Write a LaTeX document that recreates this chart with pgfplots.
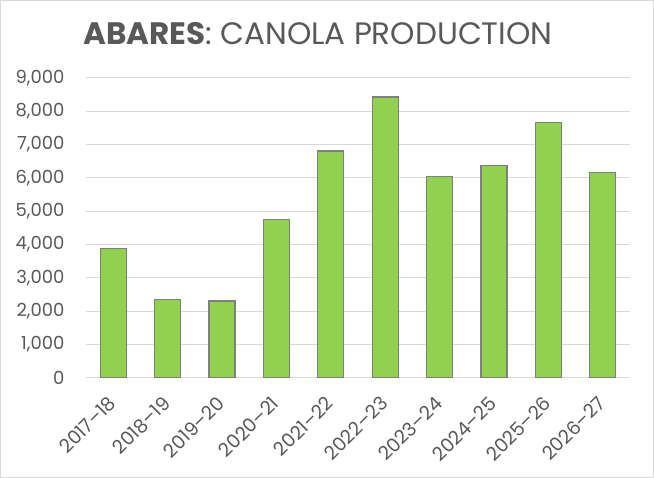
\documentclass[border=0pt]{standalone}
\usepackage{fontspec}
\setmainfont{Poppins}
\usepackage{pgfplots}
\pgfplotsset{compat=1.18}
\usetikzlibrary{calc}

\definecolor{barfill}{RGB}{146,208,80}
\definecolor{baredge}{RGB}{127,127,127}
\definecolor{gridgray}{RGB}{217,217,217}
\definecolor{txt}{RGB}{89,89,89}

\begin{document}
\begin{tikzpicture}
\begin{axis}[
    scale only axis,
    width=544pt, height=300pt,
    ybar, bar width=26pt,
    xmin=-0.5, xmax=9.5,
    ymin=0, ymax=9000,
    xtick={0,...,9},
    xticklabels={2017–18,2018–19,2019–20,2020–21,2021–22,2022–23,2023–24,2024–25,2025–26,2026–27},
    ytick={0,1000,...,9000},
    axis line style={draw=none},
    major tick length=0pt,
    ymajorgrids,
    grid style={gridgray, line width=1pt},
    /pgf/number format/assume math mode=true,
    /pgf/number format/1000 sep={,},
    yticklabel style={font=\fontsize{18}{21}\selectfont, text=txt, xshift=-18pt},
    xticklabel style={font=\fontsize{19}{22}\selectfont, text=txt, xshift=-6pt, yshift=-12pt, rotate=45, anchor=north east},
]
\addplot[fill=barfill, draw=baredge, line width=1.3pt] coordinates {
    (0,3890) (1,2360) (2,2310) (3,4760) (4,6810)
    (5,8430) (6,6050) (7,6380) (8,7670) (9,6170)
};
\end{axis}
\coordinate (sw) at ($(current axis.south west)+(-86pt,-100pt)$);
\draw[gridgray, line width=1pt] ($(sw)+(0.5pt,0.5pt)$) rectangle ($(sw)+(653.5pt,477.5pt)$);
\node[text=txt, font=\fontsize{31}{36}\selectfont] at ($(sw)+(318pt,444pt)$)
    {\textbf{ABARES}: CANOLA PRODUCTION};
\end{tikzpicture}
\end{document}
